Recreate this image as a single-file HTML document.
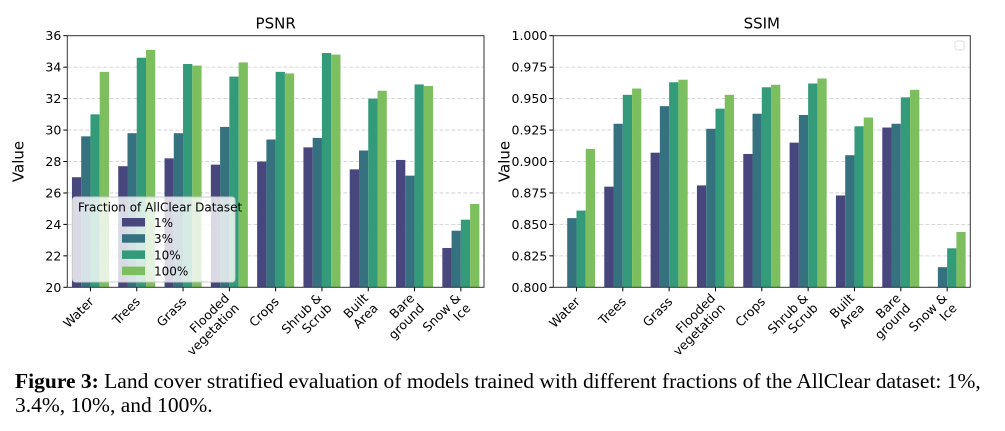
<!DOCTYPE html>
<html><head><meta charset="utf-8">
<style>
body{margin:0;background:#fff;width:1005px;height:431px;overflow:hidden;font-family:"Liberation Sans","DejaVu Sans",sans-serif}
#cap{position:absolute;left:15px;top:369px;font-family:"Liberation Serif",serif;font-size:21.5px;line-height:24px;color:#000;white-space:nowrap}
</style></head><body>
<svg id="chart" width="1005" height="431" style="position:absolute;left:0;top:0" font-family="DejaVu Sans, Liberation Sans, sans-serif"></svg>
<div id="cap"><b>Figure 3:</b> Land cover stratified evaluation of models trained with different fractions of the AllClear dataset: 1%,<br>3.4%, 10%, and 100%.</div>
<script>
const categories=["Water","Trees","Grass","Flooded\nvegetation","Crops","Shrub &\nScrub","Built\nArea","Bare\nground","Snow &\nIce"];
const seriesNames=["1%","3%","10%","100%"];
const psnr1=[27.0,27.7,28.2,27.8,28.0,28.9,27.5,28.1,22.5];
const psnr3=[29.6,29.8,29.8,30.2,29.4,29.5,28.7,27.1,23.6];
const psnr10=[31.0,34.6,34.2,33.4,33.7,34.9,32.0,32.9,24.3];
const psnr100=[33.7,35.1,34.1,34.3,33.6,34.8,32.5,32.8,25.3];
const ssim1=[0.79,0.880,0.907,0.881,0.906,0.915,0.873,0.927,0.8003];
const ssim3=[0.855,0.930,0.944,0.926,0.938,0.937,0.905,0.930,0.816];
const ssim10=[0.861,0.953,0.963,0.942,0.959,0.962,0.928,0.951,0.831];
const ssim100=[0.910,0.958,0.965,0.953,0.961,0.966,0.935,0.957,0.844];
const psnrTicks=[20,22,24,26,28,30,32,34,36];
const ssimTicks=[0.800,0.825,0.850,0.875,0.900,0.925,0.950,0.975,1.000];
const colors=["#47467d","#36717f","#339a7a","#7dbf5f"];
const NS="http://www.w3.org/2000/svg";
const svg=document.getElementById('chart');
function mk(tag,attrs,parent){const e=document.createElementNS(NS,tag);for(const k in attrs)e.setAttribute(k,attrs[k]);(parent||svg).appendChild(e);return e;}
function panel(name,L,R,T,B,ymin,ymax,ticks,fmt,series){
  const g=mk('g',{});
  
  
  const y=v=>B-(v-ymin)/(ymax-ymin)*(B-T);
  const step=(R-L)/categories.length;
  const x=i=>L+step*(i+0.5);
  ticks.forEach(t=>{
    if(t!==ymin&&t!==ymax){const gl=mk('line',{x1:L,x2:R,y1:y(t),y2:y(t),stroke:'#ccc','stroke-dasharray':'4,2','stroke-width':0.8},g);
    }
    const tl=mk('line',{x1:L-4,x2:L,y1:y(t),y2:y(t),stroke:'#000'},g);
    
    const tx=mk('text',{x:L-6,y:y(t)+4.5,'text-anchor':'end','font-size':12.5},g);tx.textContent=fmt(t);
    
  });
  const cp=mk('clipPath',{id:'cp'+name},g);mk('rect',{x:L,y:T,width:R-L,height:B-T},cp);
  const bg=mk('g',{'clip-path':'url(#cp'+name+')'},g);
  const bw=step*0.8/4;
  series.forEach((s,si)=>{s.forEach((v,i)=>{
    const top=y(v);const r=mk('rect',{x:x(i)-step*0.4+si*bw,y:Math.min(top,B),width:bw,height:Math.max(0,B-top),fill:colors[si]},bg);
    
    
  });});
  categories.forEach((c,i)=>{
    const tl=mk('line',{x1:x(i),x2:x(i),y1:B,y2:B+4,stroke:'#000'},g);
    
    const lines=c.split('\n');
    const t=mk('text',{transform:`translate(${x(i)+2},${B+13}) rotate(-45)`,'text-anchor':'end','font-size':12.5},g);
    
    lines.forEach((ln,k)=>{const ts=mk('tspan',{x:0,dy:k===0?(lines.length>1?-2:3):14},t);ts.textContent=ln;});
  });
  const fr=mk('rect',{x:L,y:T,width:R-L,height:B-T,fill:'none',stroke:'#333','stroke-width':1},g);
  
  const ti=mk('text',{x:(L+R)/2,y:T-7,'text-anchor':'middle','font-size':15},g);ti.textContent=name.toUpperCase();
  
  const yt=mk('text',{transform:`translate(${L-44},${(T+B)/2}) rotate(-90)`,'text-anchor':'middle','font-size':15},g);yt.textContent='Value';
  
  return g;
}
panel('psnr',67.3,484,35.7,287.3,20,36,psnrTicks,t=>String(t),[psnr1,psnr3,psnr10,psnr100]);
panel('ssim',553.3,970.3,35.7,287.3,0.8,1.0,ssimTicks,t=>t.toFixed(3),[ssim1,ssim3,ssim10,ssim100]);
const lg=mk('g',{});

mk('rect',{x:72.5,y:197,width:162.5,height:85,rx:3,fill:'#fff','fill-opacity':0.8,stroke:'#ccc'},lg);
const lt=mk('text',{x:78,y:211.5,'font-size':12},lg);lt.textContent='Fraction of AllClear Dataset';

seriesNames.forEach((n,i)=>{
  const e=mk('g',{},lg);
  
  mk('rect',{x:122,y:218+i*16.2,width:23,height:8.5,fill:colors[i]},e);
  const t=mk('text',{x:154,y:227+i*16.2,'font-size':12},e);t.textContent=n;
});
const el=mk('rect',{x:955,y:41,width:9,height:9,rx:2,fill:'#fff',stroke:'#ddd'});

</script>
</body></html>
